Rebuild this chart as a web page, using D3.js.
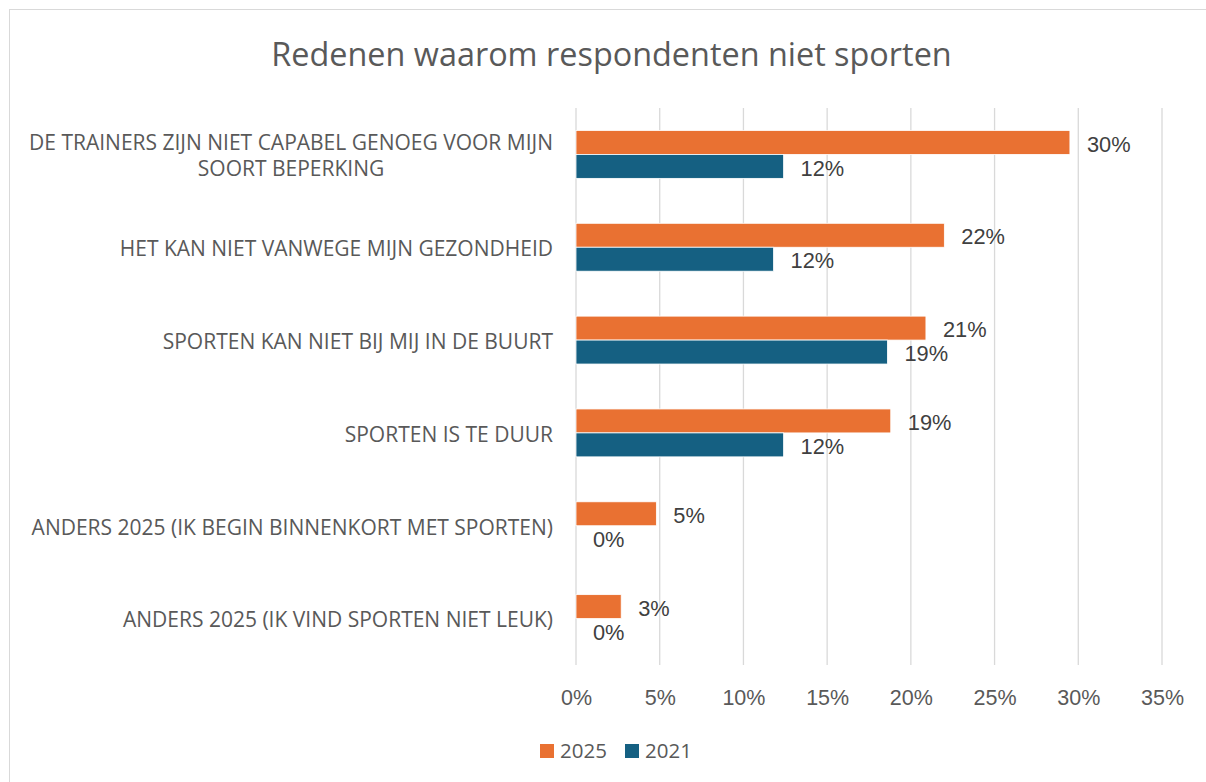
<!DOCTYPE html>
<html><head><meta charset="utf-8">
<script src="https://cdn.jsdelivr.net/npm/d3@7"></script>
<style>body{margin:0;background:#fff;} svg{display:block;}</style>
</head><body>
<svg id="c" width="1206" height="782"></svg>
<script>
const categories = [
  ["DE TRAINERS ZIJN NIET CAPABEL GENOEG VOOR MIJN", "SOORT BEPERKING"],
  ["HET KAN NIET VANWEGE MIJN GEZONDHEID"],
  ["SPORTEN KAN NIET BIJ MIJ IN DE BUURT"],
  ["SPORTEN IS TE DUUR"],
  ["ANDERS 2025 (IK BEGIN BINNENKORT MET SPORTEN)"],
  ["ANDERS 2025 (IK VIND SPORTEN NIET LEUK)"]
];
const values2025 = [29.5, 22.0, 20.9, 18.8, 4.8, 2.7];
const values2021 = [12.4, 11.8, 18.6, 12.4, 0, 0];
const series = ["2025", "2021"];
const colors = ["#E97132", "#156082"];
const xTicks = [0, 5, 10, 15, 20, 25, 30, 35];
const title = "Redenen waarom respondenten niet sporten";

(function(){
const svg = d3.select("#c");
svg.append("rect").attr("x", 9.5).attr("y", 9.5).attr("width", 1250).attr("height", 800)
  .attr("fill", "#fff").attr("stroke", "#d9d9d9").attr("stroke-width", 1);

const pL = 576, pR = 1162, pT = 108, pB = 665;
const x = d3.scaleLinear().domain([0, 35]).range([pL, pR]);
const y = d3.scaleBand().domain(d3.range(categories.length)).range([pT, pB]).paddingInner(0.484).paddingOuter(0.242);
const ys = d3.scaleBand().domain(series).range([0, y.bandwidth()]);

svg.append("g").selectAll("line").data(xTicks).join("line")
  .attr("x1", d => x(d)).attr("x2", d => x(d)).attr("y1", pT).attr("y2", pB)
  .attr("stroke", "#d9d9d9").attr("stroke-width", 1.3);

const xAxis = d3.axisBottom(x).tickValues(xTicks).tickFormat(d => d + "%").tickSize(0).tickPadding(0);
const gx = svg.append("g").attr("transform", `translate(0,${pB + 32})`).call(xAxis);
gx.select(".domain").remove();
gx.selectAll("text").attr("font-family", "Liberation Sans, Arial, sans-serif").attr("font-size", 21.5)
  .attr("fill", "#595959").attr("dy", "0.35em");

svg.append("text").attr("x", 611.5).attr("y", 66).attr("text-anchor", "middle")
  .attr("font-family", "Open Sans, sans-serif").attr("font-size", 32.4).attr("fill", "#595959").text(title);

const gl = svg.append("g").attr("font-family", "Open Sans, sans-serif").attr("font-size", 21).attr("fill", "#595959");
categories.forEach((lines, i) => {
  const cy = y(i) + y.bandwidth() / 2 + 1.5;
  const lh = 26;
  const t = gl.append("text").attr("text-anchor", "end");
  lines.forEach((l, k) => {
    t.append("tspan").attr("x", 553).attr("y", cy + (k - (lines.length - 1) / 2) * lh).attr("dy", "0.35em").text(l);
  });
  if (lines.length > 1) {
    const tsp = t.selectAll("tspan").nodes();
    const w1 = tsp[0].getComputedTextLength();
    d3.select(tsp[1]).attr("x", 553 - w1 / 2).attr("text-anchor", "middle");
  }
});

const data = [values2025, values2021];
data.forEach((vals, s) => {
  svg.append("g").selectAll("rect").data(vals).join("rect")
    .attr("x", x(0)).attr("y", (d, i) => y(i) + ys(series[s]))
    .attr("width", d => x(d) - x(0)).attr("height", ys.bandwidth())
    .attr("fill", colors[s]).attr("stroke", d => d > 0 ? "#fff" : "none").attr("stroke-width", 0.8);
  svg.append("g").selectAll("text").data(vals).join("text")
    .attr("x", d => x(d) + 17).attr("y", (d, i) => y(i) + ys(series[s]) + ys.bandwidth() / 2 + 1.5)
    .attr("dy", "0.35em").attr("font-family", "Liberation Sans, Arial, sans-serif").attr("font-size", 21.8)
    .attr("fill", "#404040").text(d => Math.round(d) + "%");
});

const lg = svg.append("g").attr("font-family", "Open Sans, sans-serif").attr("font-size", 20.5).attr("fill", "#595959");
const legX = [540, 625];
series.forEach((s, i) => {
  lg.append("rect").attr("x", legX[i]).attr("y", 744).attr("width", 14).attr("height", 14).attr("fill", colors[i]);
  lg.append("text").attr("x", legX[i] + 20).attr("y", 751).attr("dy", "0.35em").text(s);
});
})();
</script>
</body></html>
